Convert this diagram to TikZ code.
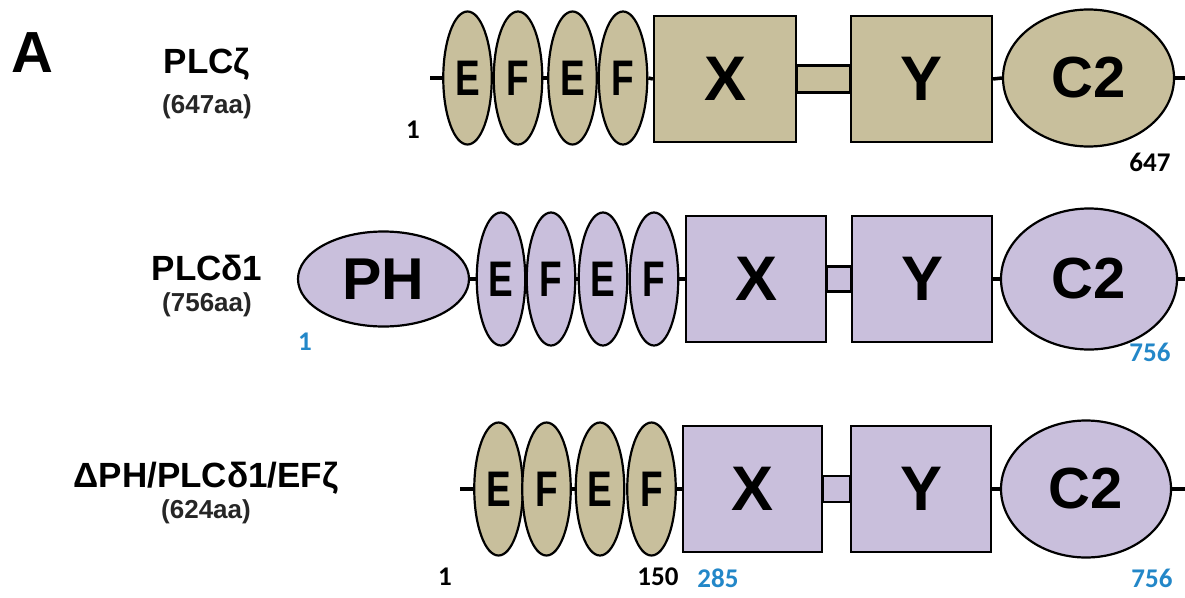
\documentclass[tikz,border=0pt]{standalone}
\usepackage{fontspec}
\setmainfont{Liberation Sans}
\newfontfamily\numfont{Carlito}
\newfontfamily\efont[FakeStretch=0.74]{Liberation Sans}
\usetikzlibrary{shapes.geometric}

\definecolor{zetatan}{RGB}{200,191,156}
\definecolor{deltalilac}{RGB}{201,191,220}
\definecolor{numblue}{RGB}{35,135,200}

\begin{document}
\begin{tikzpicture}[x=1pt,y=-1pt]
\tikzstyle{every node}+=[inner sep=0pt]
\tikzstyle{backbone}=[line width=3.5pt]
\tikzstyle{efhand}=[draw, ellipse, line width=2.2pt, minimum width=48.5pt, minimum height=133pt, font=\efont\bfseries\fontsize{50}{50}\selectfont]
\tikzstyle{dombox}=[draw, rectangle, line width=2.2pt, minimum width=140pt, minimum height=126pt, font=\bfseries\fontsize{63}{63}\selectfont]
\tikzstyle{c2dom}=[draw, ellipse, line width=2.2pt, font=\bfseries\fontsize{58}{58}\selectfont]
\tikzstyle{linkbar}=[draw, line width=2.2pt]
\tikzstyle{rowname}=[font=\bfseries\fontsize{35}{35}\selectfont]
\tikzstyle{rowlen}=[font=\bfseries\fontsize{26}{26}\selectfont, text=black!85]
\tikzstyle{numlab}=[font=\numfont\bfseries\fontsize{27}{27}\selectfont]
\useasboundingbox (0,0) rectangle (1185,597);

% panel letter and names
\node[font=\bfseries\fontsize{58}{58}\selectfont] (panel) at (32,53) {A};
\node[rowname] (name1) at (207,64) {PLCζ};
\node[rowlen] (len1) at (207,107) {(647aa)};
\node[rowname] (name2) at (207,268) {PLCδ1};
\node[rowlen] (len2) at (207,305) {(756aa)};
\node[rowname] (name3) at (206,478) {ΔPH/PLCδ1/EFζ};
\node[rowlen] (len3) at (206,512) {(624aa)};

% PLC zeta
\coordinate (n1) at (430,78);
\coordinate (c1) at (1185,78);
\node[efhand, fill=zetatan] (e1a) at (467.5,78) {E};
\node[efhand, fill=zetatan] (f1a) at (518,78) {F};
\node[efhand, fill=zetatan] (e1b) at (572.5,78) {E};
\node[efhand, fill=zetatan] (f1b) at (623,78) {F};
\node[dombox, fill=zetatan, minimum width=142pt] (x1) at (725,79) {X};
\node[dombox, fill=zetatan, minimum width=141pt] (y1) at (921.5,79) {Y};
\node[c2dom, fill=zetatan, minimum width=171pt, minimum height=137pt] (c2a) at (1088.5,78) {C2};
\draw[linkbar, fill=zetatan] ([yshift=13.5pt]x1.east) rectangle ([yshift=-13.5pt]y1.west);
\draw[backbone] (n1) -- (e1a.west);
\draw[backbone] (f1a.east) -- (e1b.west);
\draw[backbone] (f1b.east) -- (x1.west);
\draw[backbone] (y1.east) -- (c2a.west);
\draw[backbone] (c2a.east) -- (c1);
\node[numlab] (a1) at (413,130) {1};
\node[numlab] (a647) at (1150,162) {647};

% PLC delta1
\coordinate (c2) at (1185,279);
\node[c2dom, fill=deltalilac, minimum width=171pt, minimum height=95pt, font=\bfseries\fontsize{59}{59}\selectfont] (ph2) at (383.5,279) {PH};
\node[efhand, fill=deltalilac] (e2a) at (501,279) {E};
\node[efhand, fill=deltalilac] (f2a) at (551,279) {F};
\node[efhand, fill=deltalilac] (e2b) at (603,279) {E};
\node[efhand, fill=deltalilac] (f2b) at (654,279) {F};
\node[dombox, fill=deltalilac] (x2) at (756,279) {X};
\node[dombox, fill=deltalilac] (y2) at (922,279) {Y};
\node[c2dom, fill=deltalilac, minimum width=176pt, minimum height=141pt] (c2b) at (1089,279) {C2};
\draw[linkbar, fill=deltalilac] ([yshift=12.5pt]x2.east) rectangle ([yshift=-12.5pt]y2.west);
\draw[backbone] (ph2.east) -- (e2a.west);
\draw[backbone] (f2a.east) -- (e2b.west);
\draw[backbone] (f2b.east) -- (x2.west);
\draw[backbone] (y2.east) -- (c2b.west);
\draw[backbone] (c2b.east) -- (c2);
\node[numlab, text=numblue] (b1) at (305,342) {1};
\node[numlab, text=numblue] (b756) at (1150,352) {756};

% chimera
\coordinate (n3) at (460,489);
\coordinate (c3) at (1185,489);
\node[efhand, fill=zetatan] (e3a) at (498.5,489) {E};
\node[efhand, fill=zetatan] (f3a) at (546.5,489) {F};
\node[efhand, fill=zetatan] (e3b) at (600,489) {E};
\node[efhand, fill=zetatan] (f3b) at (651.5,489) {F};
\node[dombox, fill=deltalilac, minimum width=139pt] (x3) at (752.5,489) {X};
\node[dombox, fill=deltalilac] (y3) at (921,489) {Y};
\node[c2dom, fill=deltalilac, minimum width=170pt, minimum height=137pt] (c2c) at (1086,489) {C2};
\draw[linkbar, fill=deltalilac] ([yshift=13pt]x3.east) rectangle ([yshift=-13pt]y3.west);
\draw[backbone] (n3) -- (e3a.west);
\draw[backbone] (f3a.east) -- (e3b.west);
\draw[backbone] (f3b.east) -- (x3.west);
\draw[backbone] (y3.east) -- (c2c.west);
\draw[backbone] (c2c.east) -- (c3);
\node[numlab] (d1) at (445,577) {1};
\node[numlab] (d150) at (658,577) {150};
\node[numlab, text=numblue] (d285) at (718,578) {285};
\node[numlab, text=numblue] (d756) at (1152,578) {756};
\end{tikzpicture}
\end{document}
